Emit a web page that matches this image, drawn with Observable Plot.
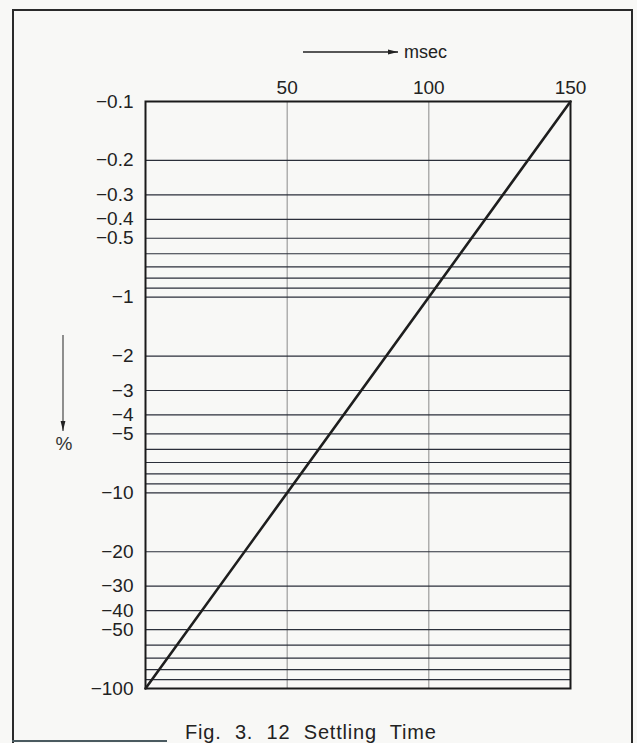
<!DOCTYPE html>
<html>
<head>
<meta charset="utf-8">
<script src="https://cdn.jsdelivr.net/npm/d3@7"></script>
<script src="https://cdn.jsdelivr.net/npm/@observablehq/plot@0.6"></script>
<style>
  html, body { margin: 0; padding: 0; background: #f8f8f6; overflow: hidden; }
  body { width: 637px; height: 743px; position: relative; font-family: "Liberation Sans", Arial, sans-serif; color: #222; }
  #chart { position: absolute; left: 0; top: 0; }
  #deco { position: absolute; left: 0; top: 0; }
  #frame { position: absolute; left: 12px; top: 9px; width: 621px; height: 760px; border: 2px solid #2a2a2a; border-bottom: none; box-sizing: border-box; }
  #botline { position: absolute; left: 12px; top: 740px; width: 155px; height: 0; border-top: 2px solid #4a5a60; }
  #caption { position: absolute; left: 185px; top: 722px; font-size: 20px; line-height: 20px; letter-spacing: 0.8px; word-spacing: 7px; white-space: nowrap; color: #222; }
</style>
</head>
<body>
<div id="chart"></div>
<svg id="deco" width="637" height="743">
  <defs>
    <marker id="ah" viewBox="0 0 10 6" refX="10" refY="3" markerWidth="11" markerHeight="6" markerUnits="userSpaceOnUse" orient="auto">
      <path d="M0,0.6 L10,3 L0,5.4 Z" fill="#222"/>
    </marker>
  </defs>
  <line x1="303" y1="52" x2="398" y2="52" stroke="#222" stroke-width="1.5" marker-end="url(#ah)"/>
  <text x="404" y="58" font-size="18" font-family="Liberation Sans, Arial, sans-serif" fill="#222">msec</text>
  <line x1="63" y1="335" x2="63" y2="431" stroke="#555" stroke-width="1.3" marker-end="url(#ah)"/>
  <text x="64" y="450" font-size="19" text-anchor="middle" font-family="Liberation Sans, Arial, sans-serif" fill="#333">%</text>
</svg>
<div id="frame"></div>
<div id="botline"></div>
<div id="caption">Fig. 3. 12 Settling Time</div>
<script>
// Data
const timeTicks = [50, 100, 150];
const timeGrid = [50, 100];
const percentTicks = [-0.1, -0.2, -0.3, -0.4, -0.5, -1, -2, -3, -4, -5, -10, -20, -30, -40, -50, -100];
const percentGrid = [-0.1, -0.2, -0.3, -0.4, -0.5, -0.6, -0.7, -0.8, -0.9,
                     -1, -2, -3, -4, -5, -6, -7, -8, -9,
                     -10, -20, -30, -40, -50, -60, -70, -80, -90, -100];
const settleTime = [0, 150];
const settlePercent = [-100, -0.1];

const settling = settleTime.map((t, i) => ({t, p: settlePercent[i]}));

const chart = Plot.plot({
  width: 637,
  height: 700,
  marginLeft: 145,
  marginRight: 67,
  marginTop: 101,
  marginBottom: 12,
  style: {fontSize: "19px", fontFamily: "Liberation Sans, Arial, sans-serif", background: "transparent", color: "#222", overflow: "visible"},
  x: {domain: [0, 150], axis: null},
  y: {type: "log", domain: [-100, -0.1], axis: null},
  marks: [
    Plot.ruleX(timeGrid, {stroke: "#8a8a8a", strokeWidth: 1}),
    Plot.ruleY(percentGrid, {stroke: "#2b2f3a", strokeWidth: 1.2}),
    Plot.frame({stroke: "#1a1a1a", strokeWidth: 2}),
    Plot.axisX(timeTicks, {anchor: "top", tickSize: 0, tickPadding: 8, label: null, fontSize: 19}),
    Plot.axisY(percentTicks, {anchor: "left", tickSize: 0, tickPadding: 12, label: null, fontSize: 19,
      tickFormat: d => "\u2212" + String(Math.abs(d))}),
    Plot.line(settling, {x: "t", y: "p", stroke: "#1e1e1e", strokeWidth: 2.6})
  ]
});
document.getElementById("chart").appendChild(chart);
</script>
</body>
</html>
